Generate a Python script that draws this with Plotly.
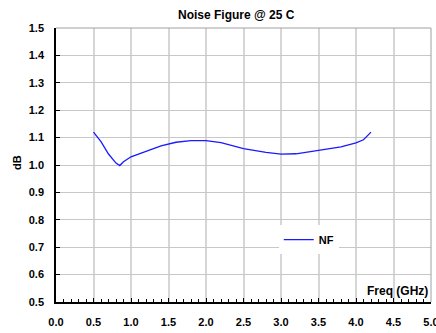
import plotly.graph_objects as go

freq_ghz = [0.5, 0.6, 0.7, 0.8, 0.85, 0.9, 1.0, 1.2, 1.4, 1.6, 1.8, 2.0, 2.2, 2.5,
            2.8, 3.0, 3.2, 3.5, 3.8, 4.0, 4.1, 4.2]
nf_db = [1.12, 1.085, 1.04, 1.007, 0.998, 1.012, 1.03, 1.05, 1.07, 1.083, 1.089, 1.089,
         1.082, 1.06, 1.046, 1.04, 1.041, 1.053, 1.066, 1.081, 1.092, 1.12]
series_name = "NF"
title_text = "Noise Figure @ 25 C"
x_title = "Freq (GHz)"
y_title = "dB"
x_tickvals = [0.0, 0.5, 1.0, 1.5, 2.0, 2.5, 3.0, 3.5, 4.0, 4.5, 5.0]
y_tickvals = [0.5, 0.6, 0.7, 0.8, 0.9, 1.0, 1.1, 1.2, 1.3, 1.4, 1.5]

FONT = "Liberation Sans, Arial, sans-serif"

fig = go.Figure()
fig.add_trace(go.Scatter(
    x=freq_ghz, y=nf_db, mode="lines", name=series_name,
    line=dict(color="#1a1aff", width=1.3),
))

fig.update_layout(
    width=436, height=333,
    margin=dict(l=56, r=5, t=28, b=31, autoexpand=False),
    paper_bgcolor="white", plot_bgcolor="white",
    font=dict(family=FONT, size=11, color="black"),
    showlegend=True,
    legend=dict(
        x=0.594, y=0.228, xanchor="left", yanchor="middle",
        bgcolor="white", borderwidth=0,
        font=dict(family=FONT, size=11, color="black", weight="bold"),
        itemwidth=30,
    ),
    annotations=[
        dict(text="<b>" + title_text + "</b>", xref="paper", yref="paper",
             x=(236 - 56) / 375, y=1, xanchor="center", yanchor="bottom", yshift=4,
             showarrow=False, font=dict(family=FONT, size=12, color="black")),
        dict(text="<b>" + x_title + "</b>", xref="paper", yref="paper",
             x=1, y=0, xanchor="right", yanchor="bottom", yshift=2, xshift=-1,
             showarrow=False, font=dict(family=FONT, size=12, color="black")),
        dict(text="<b>" + y_title + "</b>", xref="paper", yref="paper",
             x=(17 - 56) / 375, y=0.507, xanchor="center", yanchor="middle",
             textangle=-90, showarrow=False,
             font=dict(family=FONT, size=11, color="black")),
    ],
    shapes=[
        dict(type="line", xref="paper", yref="paper", x0=0, x1=1, y0=1, y1=1,
             line=dict(color="#a0a0a0", width=1)),
        dict(type="line", xref="paper", yref="paper", x0=1, x1=1, y0=0, y1=1,
             line=dict(color="#a0a0a0", width=1)),
    ],
)

fig.update_xaxes(
    range=[0, 5], tickvals=x_tickvals, ticktext=[f"{v:.1f}" for v in x_tickvals],
    showline=True, linecolor="black", linewidth=1.5,
    ticks="inside", ticklen=4, tickcolor="black",
    minor=dict(dtick=0.1, ticks="inside", ticklen=3, tickcolor="black", showgrid=False),
    showgrid=True, gridcolor="#d6d6d6", gridwidth=1.5,
    zeroline=False, ticklabelstandoff=9, automargin=False,
    ticklabeloverflow="allow",
    tickfont=dict(family=FONT, size=11, color="black", weight="bold"),
)
fig.update_yaxes(
    range=[0.5, 1.5], tickvals=y_tickvals, ticktext=[f"{v:.1f}" for v in y_tickvals],
    showline=True, linecolor="black", linewidth=1.5,
    ticks="inside", ticklen=4, tickcolor="black",
    showgrid=True, gridcolor="#c8c8c8", gridwidth=1,
    zeroline=False, ticklabelstandoff=8, automargin=False,
    tickfont=dict(family=FONT, size=11, color="black", weight="bold"),
)

fig.write_html(
    "out.html",
    config={"displayModeBar": False},
    post_script="document.body.style.margin='0';document.body.style.padding='0';",
)
